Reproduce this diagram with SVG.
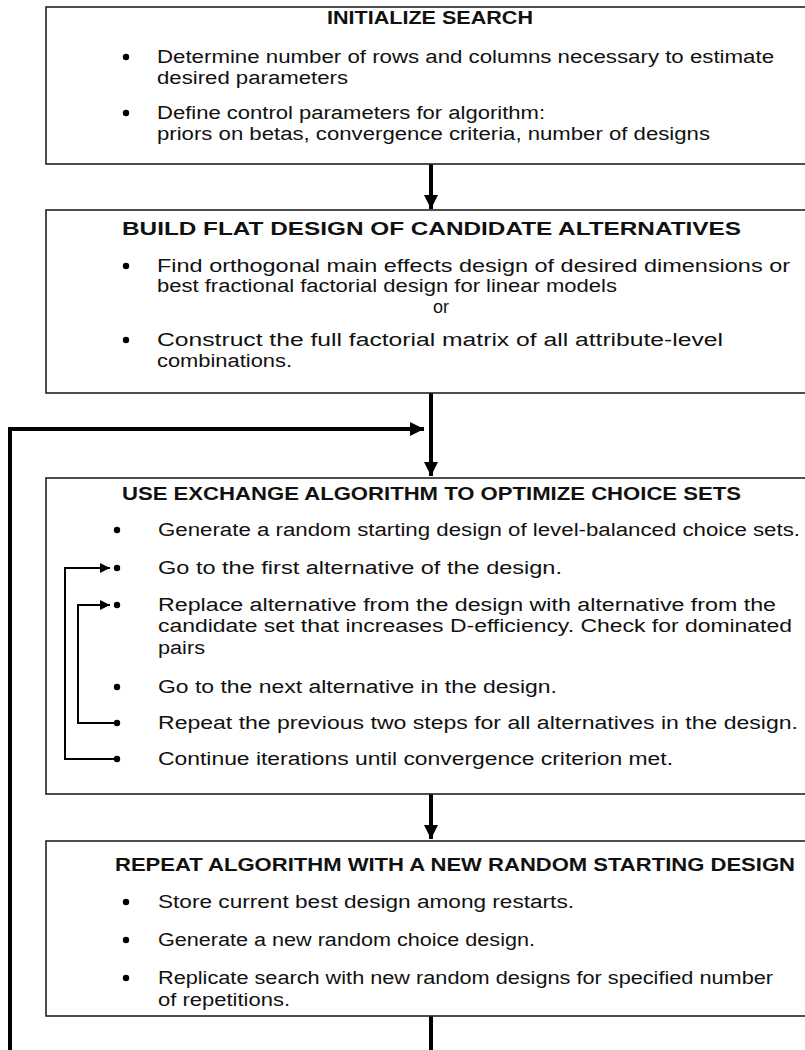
<svg xmlns="http://www.w3.org/2000/svg" width="805" height="1050" viewBox="0 0 805 1050">
<defs>
<style>
.box{fill:#fff;stroke:#222;stroke-width:1.6}
.t{font-family:"Liberation Sans",Arial,sans-serif;font-size:18px;fill:#111}
.t1{font-family:"Liberation Sans",Arial,sans-serif;font-size:18px;fill:#111}
.h{font-family:"Liberation Sans",Arial,sans-serif;font-size:18.5px;font-weight:bold;fill:#111}
.thick{stroke:#000;stroke-width:4;fill:none}
.thin{stroke:#000;stroke-width:2;fill:none}
.dot{fill:#000}
</style>
<marker id="big" viewBox="0 0 10 10" refX="10" refY="5" markerWidth="3.6" markerHeight="3.6" orient="auto" markerUnits="strokeWidth"><path d="M0,0 L10,5 L0,10 z" fill="#000"/></marker>
<marker id="small" viewBox="0 0 10 10" refX="10" refY="5" markerWidth="6" markerHeight="5" orient="auto" markerUnits="strokeWidth"><path d="M0,0 L10,5 L0,10 z" fill="#000"/></marker>
</defs>
<g id="connectors">
<line class="thick" x1="431" y1="164" x2="431" y2="209" marker-end="url(#big)"/>
<line class="thick" x1="431" y1="393" x2="431" y2="476" marker-end="url(#big)"/>
<polyline class="thick" points="10,1050 10,429 424,429" marker-end="url(#big)"/>
<line class="thick" x1="431" y1="794" x2="431" y2="839" marker-end="url(#big)"/>
<line class="thick" x1="431" y1="1016" x2="431" y2="1050"/>
</g>
<g id="node-initialize">
<rect class="box" x="46" y="7" width="800" height="157"/>
<text class="h" x="327" y="24" textLength="206" lengthAdjust="spacingAndGlyphs">INITIALIZE SEARCH</text>
<circle class="dot" cx="126" cy="57" r="3.2"/>
<text class="t1" x="157" y="63" textLength="617" lengthAdjust="spacingAndGlyphs">Determine number of rows and columns necessary to estimate</text>
<text class="t1" x="157" y="84" textLength="191" lengthAdjust="spacingAndGlyphs">desired parameters</text>
<circle class="dot" cx="126" cy="113" r="3.2"/>
<text class="t1" x="157" y="119" textLength="388" lengthAdjust="spacingAndGlyphs">Define control parameters for algorithm:</text>
<text class="t1" x="157" y="140" textLength="553" lengthAdjust="spacingAndGlyphs">priors on betas, convergence criteria, number of designs</text>
</g>
<g id="node-build">
<rect class="box" x="46" y="210" width="800" height="183"/>
<text class="h" x="122" y="235" textLength="619" lengthAdjust="spacingAndGlyphs">BUILD FLAT DESIGN OF CANDIDATE ALTERNATIVES</text>
<circle class="dot" cx="126" cy="266" r="3.2"/>
<text class="t" x="157" y="272" textLength="633" lengthAdjust="spacingAndGlyphs">Find orthogonal main effects design of desired dimensions or</text>
<text class="t" x="157" y="292" textLength="460" lengthAdjust="spacingAndGlyphs">best fractional factorial design for linear models</text>
<text class="t" x="441" y="313" text-anchor="middle">or</text>
<circle class="dot" cx="126" cy="340" r="3.2"/>
<text class="t" x="157" y="346" textLength="566" lengthAdjust="spacingAndGlyphs">Construct the full factorial matrix of all attribute-level</text>
<text class="t" x="157" y="367" textLength="135" lengthAdjust="spacingAndGlyphs">combinations.</text>
</g>
<g id="node-exchange">
<rect class="box" x="46" y="478" width="800" height="316"/>
<text class="h" x="122" y="500" textLength="619" lengthAdjust="spacingAndGlyphs">USE EXCHANGE ALGORITHM TO OPTIMIZE CHOICE SETS</text>
<circle class="dot" cx="117" cy="530" r="3.2"/>
<text class="t" x="158" y="536" textLength="642" lengthAdjust="spacingAndGlyphs">Generate a random starting design of level-balanced choice sets.</text>
<circle class="dot" cx="117" cy="568" r="3.2"/>
<text class="t" x="158" y="574" textLength="404" lengthAdjust="spacingAndGlyphs">Go to the first alternative of the design.</text>
<circle class="dot" cx="117" cy="605" r="3.2"/>
<text class="t" x="158" y="611" textLength="618" lengthAdjust="spacingAndGlyphs">Replace alternative from the design with alternative from the</text>
<text class="t" x="158" y="632" textLength="634" lengthAdjust="spacingAndGlyphs">candidate set that increases D-efficiency. Check for dominated</text>
<text class="t" x="158" y="654" textLength="47" lengthAdjust="spacingAndGlyphs">pairs</text>
<circle class="dot" cx="117" cy="687" r="3.2"/>
<text class="t" x="158" y="693" textLength="399" lengthAdjust="spacingAndGlyphs">Go to the next alternative in the design.</text>
<circle class="dot" cx="117" cy="723" r="3.2"/>
<text class="t" x="158" y="729" textLength="640" lengthAdjust="spacingAndGlyphs">Repeat the previous two steps for all alternatives in the design.</text>
<circle class="dot" cx="117" cy="759" r="3.2"/>
<text class="t" x="158" y="765" textLength="515" lengthAdjust="spacingAndGlyphs">Continue iterations until convergence criterion met.</text>
<polyline class="thin" points="115,759 65,759 65,568 110,568" marker-end="url(#small)"/>
<polyline class="thin" points="115,723 78,723 78,605 110,605" marker-end="url(#small)"/>
</g>
<g id="node-repeat">
<rect class="box" x="46" y="841" width="800" height="175"/>
<text class="h" x="115" y="871" textLength="680" lengthAdjust="spacingAndGlyphs">REPEAT ALGORITHM WITH A NEW RANDOM STARTING DESIGN</text>
<circle class="dot" cx="126" cy="902" r="3.2"/>
<text class="t" x="158" y="908" textLength="416" lengthAdjust="spacingAndGlyphs">Store current best design among restarts.</text>
<circle class="dot" cx="126" cy="940" r="3.2"/>
<text class="t" x="158" y="946" textLength="377" lengthAdjust="spacingAndGlyphs">Generate a new random choice design.</text>
<circle class="dot" cx="126" cy="978" r="3.2"/>
<text class="t" x="158" y="984" textLength="615" lengthAdjust="spacingAndGlyphs">Replicate search with new random designs for specified number</text>
<text class="t" x="158" y="1006" textLength="132" lengthAdjust="spacingAndGlyphs">of repetitions.</text>
</g>
</svg>
